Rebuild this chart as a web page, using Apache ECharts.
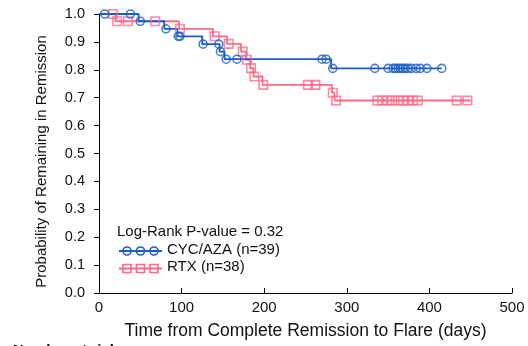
<!DOCTYPE html>
<html>
<head>
<meta charset="utf-8">
<script src="https://cdn.jsdelivr.net/npm/echarts@6/dist/echarts.min.js"></script>
<style>
html,body{margin:0;padding:0;background:#fff;}
#c{width:528px;height:346px;}
</style>
</head>
<body>
<div id="c"></div>
<script>
// ---- data ----
var xTicks = [0, 100, 200, 300, 400, 500];
var yTicks = [0.0, 0.1, 0.2, 0.3, 0.4, 0.5, 0.6, 0.7, 0.8, 0.9, 1.0];

// CYC/AZA (n=39): Kaplan-Meier step curve
var cycTimes = [0, 48, 79, 95, 125, 146, 152, 281, 415];
var cycSurv  = [1.000, 0.974, 0.947, 0.920, 0.892, 0.865, 0.838, 0.805, 0.805];
// censored observations
var cycCensTimes = [7, 38, 50, 81, 96, 98, 126, 145, 147, 154, 167, 270, 275, 283, 334, 350, 356, 359, 362, 365, 368, 371, 374, 378, 384, 389, 397, 415];
var cycCensSurv  = [1.000, 1.000, 0.974, 0.947, 0.920, 0.920, 0.892, 0.892, 0.865, 0.838, 0.838, 0.838, 0.838, 0.805, 0.805, 0.805, 0.805, 0.805, 0.805, 0.805, 0.805, 0.805, 0.805, 0.805, 0.805, 0.805, 0.805, 0.805];

// RTX (n=38)
var rtxTimes = [0, 20, 97, 138, 155, 172, 178, 183, 187, 198, 282, 285, 450];
var rtxSurv  = [1.000, 0.974, 0.947, 0.920, 0.893, 0.865, 0.836, 0.806, 0.776, 0.746, 0.718, 0.690, 0.690];
var rtxCensTimes = [17, 22, 35, 68, 98, 140, 157, 174, 179, 184, 188, 199, 253, 262, 283, 287, 337, 343, 349, 355, 362, 368, 374, 380, 386, 433, 446];
var rtxCensSurv  = [1.000, 0.974, 0.974, 0.974, 0.947, 0.920, 0.893, 0.865, 0.836, 0.806, 0.776, 0.746, 0.746, 0.746, 0.718, 0.690, 0.690, 0.690, 0.690, 0.690, 0.690, 0.690, 0.690, 0.690, 0.690, 0.690, 0.690];

var pText = 'Log-Rank P-value = 0.32';
var cycName = 'CYC/AZA (n=39)';
var rtxName = 'RTX (n=38)';

var BLUE = '#1b5cc4';
var PINK = '#ff6b86';
var FONT = '"Liberation Sans", Arial, sans-serif';

function zip(a, b) { return a.map(function (v, i) { return [v, b[i]]; }); }

var chart = echarts.init(document.getElementById('c'), null, {renderer: 'canvas'});

var legendY1 = 251, legendY2 = 268.5, lx = [127, 140.5, 154];

var option = {
  animation: false,
  backgroundColor: '#ffffff',
  grid: {left: 99, right: 16, top: 14, bottom: 53, containLabel: false},
  xAxis: {
    type: 'value', min: 0, max: 500, interval: 100,
    name: 'Time from Complete Remission to Flare (days)',
    nameLocation: 'middle', nameGap: 29,
    nameTextStyle: {fontFamily: FONT, fontSize: 17.5, color: '#111'},
    axisLine: {lineStyle: {color: '#000', width: 1}},
    axisTick: {inside: true, length: 5, lineStyle: {color: '#000'}},
    axisLabel: {fontFamily: FONT, fontSize: 15, color: '#111', margin: 7,
      formatter: function (v) { return xTicks.indexOf(v) >= 0 ? String(v) : ''; }},
    splitLine: {show: false}
  },
  yAxis: {
    type: 'value', min: 0, max: 1, interval: 0.1,
    name: 'Probability of Remaining in Remission',
    nameLocation: 'middle', nameGap: 50,
    nameTextStyle: {fontFamily: FONT, fontSize: 15, color: '#111', padding: [0, 16, 0, 0]},
    axisLine: {show: true, lineStyle: {color: '#000', width: 1}},
    axisTick: {show: true, inside: false, length: 5, lineStyle: {color: '#000'}},
    axisLabel: {fontFamily: FONT, fontSize: 14.5, color: '#111', margin: 14,
      formatter: function (v) { return v.toFixed(1); }},
    splitLine: {show: false}
  },
  series: [
    {name: cycName, type: 'line', step: 'end', data: zip(cycTimes, cycSurv),
     showSymbol: false, lineStyle: {color: BLUE, width: 1.8}, z: 3},
    {name: rtxName, type: 'line', step: 'end', data: zip(rtxTimes, rtxSurv),
     showSymbol: false, lineStyle: {color: PINK, width: 1.8}, z: 2},
    {type: 'scatter', data: zip(cycCensTimes, cycCensSurv), symbol: 'circle', symbolSize: 8,
     itemStyle: {color: 'rgba(255,255,255,0)', borderColor: BLUE, borderWidth: 1.6}, z: 4},
    {type: 'scatter', data: zip(rtxCensTimes, rtxCensSurv), symbol: 'rect', symbolSize: 8.5,
     itemStyle: {color: 'rgba(255,255,255,0)', borderColor: PINK, borderWidth: 1.6}, z: 3}
  ],
  graphic: [
    {type: 'text', left: 117, top: 224, style: {text: pText, font: '15px ' + FONT, fill: '#111'}},
    {type: 'line', shape: {x1: 119, y1: legendY1, x2: 162, y2: legendY1}, style: {stroke: BLUE, lineWidth: 1.8}},
    {type: 'circle', shape: {cx: lx[0], cy: legendY1, r: 4}, style: {fill: 'none', stroke: BLUE, lineWidth: 1.6}},
    {type: 'circle', shape: {cx: lx[1], cy: legendY1, r: 4}, style: {fill: 'none', stroke: BLUE, lineWidth: 1.6}},
    {type: 'circle', shape: {cx: lx[2], cy: legendY1, r: 4}, style: {fill: 'none', stroke: BLUE, lineWidth: 1.6}},
    {type: 'text', left: 167, top: legendY1 - 9, style: {text: cycName, font: '15px ' + FONT, fill: '#111'}},
    {type: 'line', shape: {x1: 119, y1: legendY2, x2: 162, y2: legendY2}, style: {stroke: PINK, lineWidth: 1.8}},
    {type: 'rect', shape: {x: lx[0] - 4, y: legendY2 - 4, width: 8, height: 8}, style: {fill: 'none', stroke: PINK, lineWidth: 1.6}},
    {type: 'rect', shape: {x: lx[1] - 4, y: legendY2 - 4, width: 8, height: 8}, style: {fill: 'none', stroke: PINK, lineWidth: 1.6}},
    {type: 'rect', shape: {x: lx[2] - 4, y: legendY2 - 4, width: 8, height: 8}, style: {fill: 'none', stroke: PINK, lineWidth: 1.6}},
    {type: 'text', left: 167, top: legendY2 - 9, style: {text: rtxName, font: '15px ' + FONT, fill: '#111'}},
    {type: 'text', left: 13, top: 343, style: {text: 'Number at risk', font: 'bold 15px ' + FONT, fill: '#111'}}
  ]
};
chart.setOption(option);
</script>
</body>
</html>
